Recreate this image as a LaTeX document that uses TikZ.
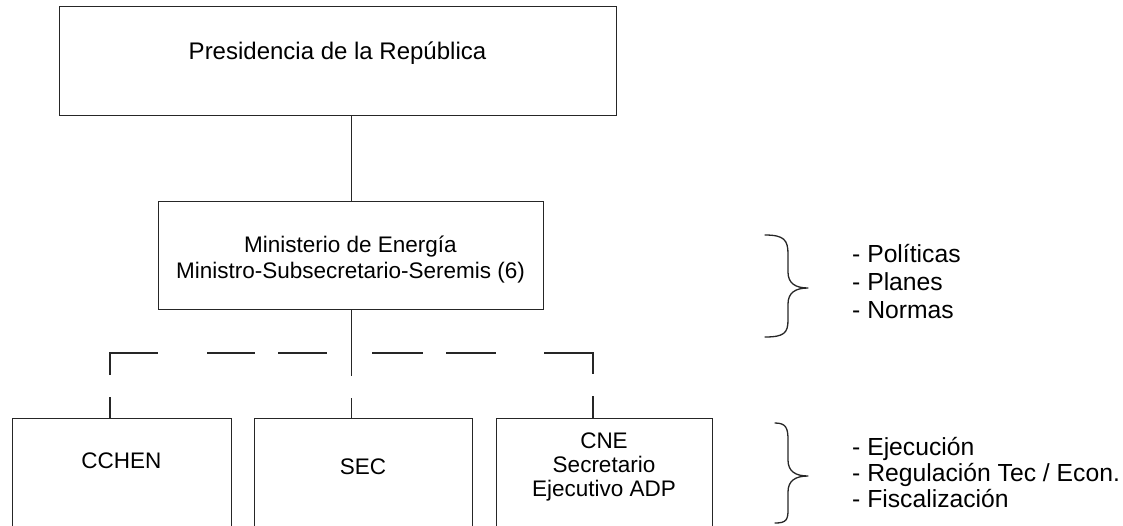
\documentclass[tikz,border=0pt]{standalone}
\usepackage{fontspec}
\setmainfont{Liberation Sans}
\begin{document}
\begin{tikzpicture}[x=1pt,y=-1pt,
  line/.style={draw=black!85,line width=1.3pt},
  boxnode/.style={line,rectangle,inner sep=0pt,anchor=north west},
  boxtext/.style={inner sep=0pt,anchor=base,font=\fontsize{22.5}{26}\selectfont},
  listtext/.style={inner sep=0pt,anchor=base west,font=\fontsize{24.7}{28}\selectfont},
  bracepath/.style={draw=black!85,line width=1.3pt,line cap=round,line join=round}]
\useasboundingbox (0,0) rectangle (1123,525);
\clip (0,0) rectangle (1123,525);
% boxes
\node[boxnode,minimum width=557pt,minimum height=109pt] (pres) at (59,6) {};
\node[boxnode,minimum width=385pt,minimum height=108pt] (mid) at (158,201) {};
\node[boxnode,minimum width=219pt,minimum height=140pt] (cchen) at (12,418) {};
\node[boxnode,minimum width=218pt,minimum height=140pt] (sec) at (254,418) {};
\node[boxnode,minimum width=216pt,minimum height=140pt] (cne) at (496,418) {};
% texts
\node[boxtext,font=\fontsize{24}{28}\selectfont] (t1) at (337.5,59) {Presidencia de la República};
\node[boxtext] (t2) at (350.5,252) {Ministerio de Energía};
\node[boxtext] (t3) at (350.5,278) {Ministro-Subsecretario-Seremis (6)};
\node[boxtext] (t4) at (121.5,468) {CCHEN};
\node[boxtext] (t5) at (363,474) {SEC};
\node[boxtext] (t6) at (604,448) {CNE};
\node[boxtext] (t7) at (604,472) {Secretario};
\node[boxtext] (t8) at (604,496) {Ejecutivo ADP};
% connectors
\draw[line] (mid.north) -- (mid.north |- pres.south);
\coordinate (cchenTop) at (110,418);
\coordinate (secTop) at (mid.south |- sec.north);
\coordinate (cneTop) at (593,418);
\draw[line,dash pattern=on 66pt off 22pt on 40pt off 0pt] (mid.south) -- (secTop);
\draw[line,dash pattern=on 21pt off 22pt on 70pt off 49pt on 48pt off 23pt on 49pt off 45pt on 51pt off 23pt on 50pt off 48pt on 70pt off 22pt on 40pt off 0pt]
  (cchenTop) -- ++(0,-65) -| (cneTop);
% braces
\draw[bracepath] (765,235) .. controls (784,235) and (788,240) .. (788,254) -- (788,272)
  .. controls (788,283) and (795,288) .. (808,288)
  .. controls (795,288) and (788,293) .. (788,304) -- (788,320)
  .. controls (788,333) and (784,337) .. (765,337);
\draw[bracepath] (775,423) .. controls (786,423) and (788,428) .. (788,440) -- (788,460)
  .. controls (788,471) and (795,476) .. (808,476)
  .. controls (795,476) and (788,481) .. (788,492) -- (788,510)
  .. controls (788,520) and (786,523) .. (775,523);
% lists
\node[listtext] (l1) at (852,262) {- Políticas};
\node[listtext] (l2) at (852,290) {- Planes};
\node[listtext] (l3) at (852,318) {- Normas};
\node[listtext] (l4) at (852,455) {- Ejecución};
\node[listtext] (l5) at (852,481) {- Regulación Tec / Econ.};
\node[listtext] (l6) at (852,507) {- Fiscalización};
\end{tikzpicture}
\end{document}
